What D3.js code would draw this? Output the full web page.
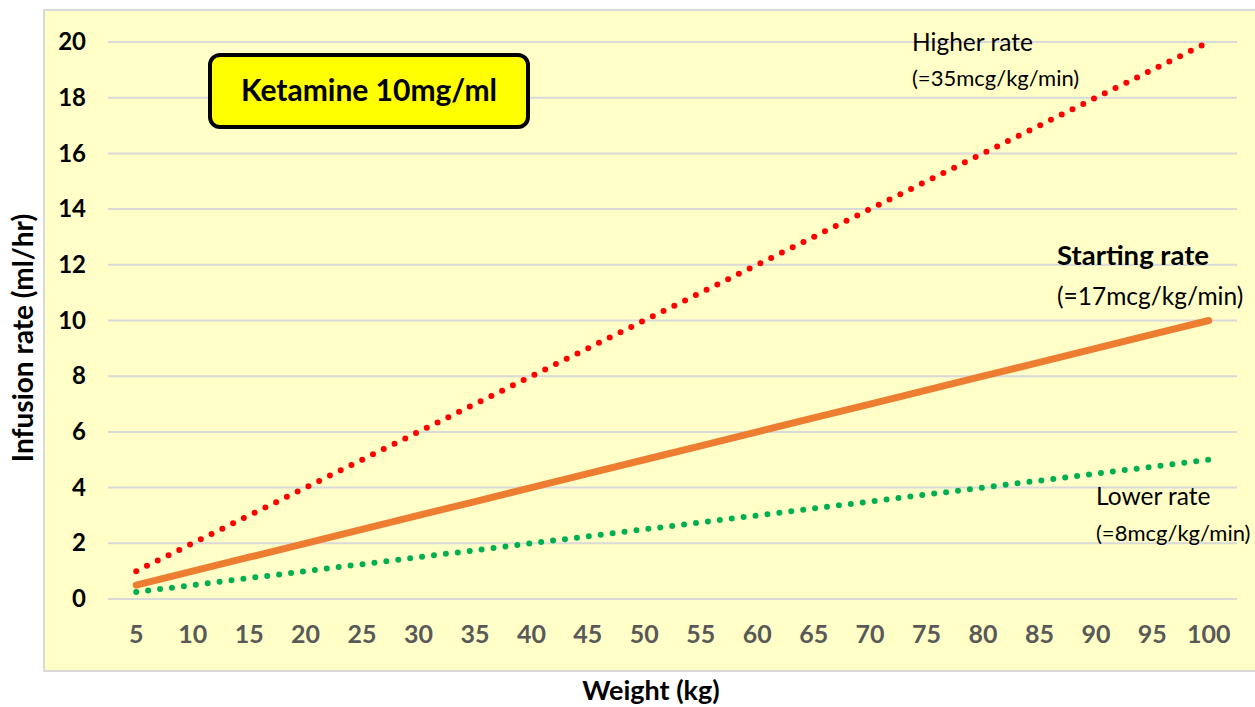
<!DOCTYPE html>
<html>
<head>
<meta charset="utf-8">
<script src="https://cdn.jsdelivr.net/npm/d3@7"></script>
<style>
  body { margin: 0; background: #fff; font-family: Lato, "Open Sans", sans-serif; }
</style>
</head>
<body>
<div id="chart"></div>
<script>
// Data
const weights = [5, 10, 15, 20, 25, 30, 35, 40, 45, 50, 55, 60, 65, 70, 75, 80, 85, 90, 95, 100];
const higherRate = [1, 2, 3, 4, 5, 6, 7, 8, 9, 10, 11, 12, 13, 14, 15, 16, 17, 18, 19, 20];
const startingRate = [0.5, 1, 1.5, 2, 2.5, 3, 3.5, 4, 4.5, 5, 5.5, 6, 6.5, 7, 7.5, 8, 8.5, 9, 9.5, 10];
const lowerRate = [0.25, 0.5, 0.75, 1, 1.25, 1.5, 1.75, 2, 2.25, 2.5, 2.75, 3, 3.25, 3.5, 3.75, 4, 4.25, 4.5, 4.75, 5];
const yTicks = [0, 2, 4, 6, 8, 10, 12, 14, 16, 18, 20];

function createChart() {
    const W = 1255, H = 707;
    const margin = { top: 42, right: 18, bottom: 108, left: 108 };
    const width = W - margin.left - margin.right;
    const height = H - margin.top - margin.bottom;

    const svg = d3.select("#chart").append("svg")
        .attr("width", W)
        .attr("height", H);

    // chart area background
    svg.append("rect")
        .attr("x", 44).attr("y", 10)
        .attr("width", 1220).attr("height", 661)
        .style("fill", "#FFFFC7")
        .style("stroke", "#D9D9D9")
        .style("stroke-width", 2);

    const g = svg.append("g")
        .attr("transform", `translate(${margin.left},${margin.top})`);

    const xScale = d3.scaleBand()
        .domain(weights)
        .range([0, width]);

    const yScale = d3.scaleLinear()
        .domain([0, 20])
        .range([height, 0]);

    const xPos = w => xScale(w) + xScale.bandwidth() / 2;

    // gridlines
    g.selectAll(".grid")
        .data(yTicks)
        .enter().append("line")
        .attr("x1", 0).attr("x2", width)
        .attr("y1", d => yScale(d)).attr("y2", d => yScale(d))
        .style("stroke", "#D9D9D9")
        .style("stroke-width", 2);

    // y axis
    const yAxis = g.append("g")
        .call(d3.axisLeft(yScale).tickValues(yTicks).tickSize(0).tickPadding(22));
    yAxis.select(".domain").remove();
    yAxis.selectAll("text")
        .style("font-family", "Lato, sans-serif")
        .style("font-size", "24px")
        .style("font-weight", "bold")
        .style("fill", "#000");

    // x axis
    const xAxis = g.append("g")
        .attr("transform", `translate(0,${height})`)
        .call(d3.axisBottom(xScale).tickSize(0).tickPadding(26));
    xAxis.select(".domain").remove();
    xAxis.selectAll("text")
        .style("font-family", "Lato, sans-serif")
        .style("font-size", "25px")
        .style("font-weight", "bold")
        .style("fill", "#595959");

    // axis titles
    svg.append("text")
        .attr("transform", "translate(33, 338) rotate(-90)")
        .style("text-anchor", "middle")
        .style("font-size", "28px")
        .style("font-weight", "bold")
        .text("Infusion rate (ml/hr)");

    svg.append("text")
        .attr("x", 651).attr("y", 700)
        .style("text-anchor", "middle")
        .style("font-size", "27px")
        .style("font-weight", "bold")
        .text("Weight (kg)");

    // lines
    const series = [
        { name: "Higher", values: higherRate, color: "#FF0000", width: 6, dash: "0 12" },
        { name: "Lower", values: lowerRate, color: "#00B050", width: 6, dash: "0 12" },
        { name: "Starting", values: startingRate, color: "#ED7D31", width: 7, dash: null }
    ];

    const line = d3.line()
        .x((d, i) => xPos(weights[i]))
        .y(d => yScale(d));

    series.forEach(s => {
        g.append("path")
            .datum(s.values)
            .attr("d", line)
            .style("fill", "none")
            .style("stroke", s.color)
            .style("stroke-width", s.width)
            .style("stroke-linecap", "round")
            .style("stroke-dasharray", s.dash);
    });

    // title box
    svg.append("rect")
        .attr("x", 210).attr("y", 55)
        .attr("width", 318).attr("height", 72)
        .attr("rx", 10)
        .style("fill", "#FFFF00")
        .style("stroke", "#000")
        .style("stroke-width", 4);

    svg.append("text")
        .attr("x", 369).attr("y", 101)
        .style("text-anchor", "middle")
        .style("font-size", "30px")
        .style("font-weight", "bold")
        .text("Ketamine 10mg/ml");

    // annotations
    const notes = [
        { x: 912, y: 51, text: "Higher rate", size: 24.5, bold: false },
        { x: 912, y: 86, text: "(=35mcg/kg/min)", size: 22, bold: false },
        { x: 1057, y: 265, text: "Starting rate", size: 27.5, bold: true },
        { x: 1057, y: 305, text: "(=17mcg/kg/min)", size: 24.5, bold: false },
        { x: 1096, y: 505, text: "Lower rate", size: 24.5, bold: false },
        { x: 1096, y: 541, text: "(=8mcg/kg/min)", size: 22, bold: false }
    ];

    svg.selectAll(".note")
        .data(notes)
        .enter().append("text")
        .attr("x", d => d.x).attr("y", d => d.y)
        .style("font-size", d => d.size + "px")
        .style("font-weight", d => d.bold ? "bold" : "normal")
        .style("fill", "#000")
        .text(d => d.text);
}

createChart();
</script>
</body>
</html>
